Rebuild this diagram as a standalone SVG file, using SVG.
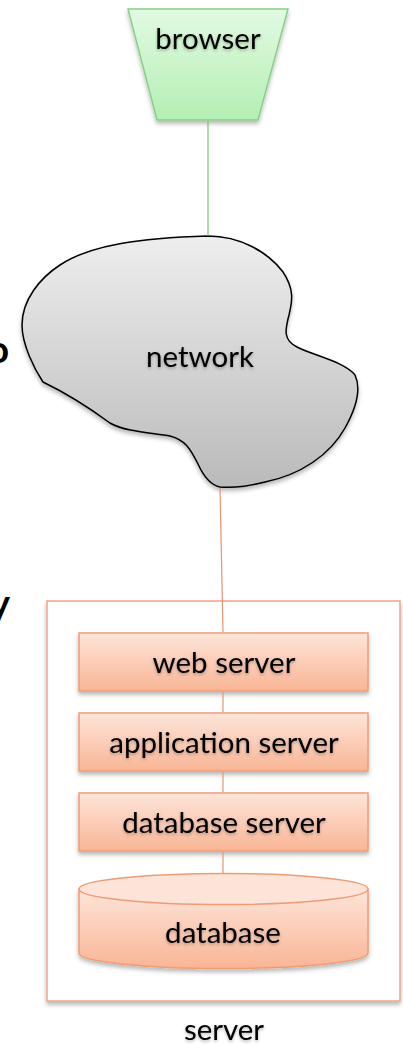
<svg xmlns="http://www.w3.org/2000/svg" width="403" height="1044" viewBox="0 0 403 1044">
  <defs>
    <linearGradient id="gGreen" x1="0" y1="0" x2="0" y2="1">
      <stop offset="0" stop-color="#e2fae2"/>
      <stop offset="1" stop-color="#b3efb3"/>
    </linearGradient>
    <linearGradient id="gGrey" x1="0" y1="0" x2="0" y2="1">
      <stop offset="0" stop-color="#eeeeee"/>
      <stop offset="1" stop-color="#bababa"/>
    </linearGradient>
    <linearGradient id="gOrange" x1="0" y1="0" x2="0" y2="1">
      <stop offset="0" stop-color="#fde5da"/>
      <stop offset="1" stop-color="#f9b595"/>
    </linearGradient>
    <filter id="shadow" x="-10%" y="-10%" width="120%" height="130%">
      <feDropShadow dx="0" dy="3" stdDeviation="2" flood-color="#000" flood-opacity="0.28"/>
    </filter>
    <filter id="tshadow" x="-10%" y="-20%" width="120%" height="150%">
      <feDropShadow dx="0" dy="1.5" stdDeviation="1.5" flood-color="#000" flood-opacity="0.3"/>
    </filter>
    <style>
      .lbl { font-family: Lato, "Open Sans", "Liberation Sans", sans-serif; font-size: 29.5px; fill: #000; text-anchor: middle; filter: url(#tshadow); }
      .frag { font-family: Lato, "Liberation Sans", sans-serif; font-weight: bold; font-size: 38px; fill: #000; text-anchor: end; }
      .box { fill: url(#gOrange); stroke: #ee9c76; stroke-width: 1.5; filter: url(#shadow); }
      .link-green { stroke: #74c274; stroke-width: 1.2; fill: none; }
      .link-orange { stroke: #e8956e; stroke-width: 1.2; fill: none; }
    </style>
  </defs>

  <rect width="403" height="1044" fill="#ffffff"/>

  <!-- edge fragments of neighbouring text -->
  <text class="frag" x="9" y="363">o</text>
  <text class="frag" x="10" y="617">y</text>

  <!-- browser -->
  <g id="browser">
    <polygon points="128,9 288,9 258,120 157,120" fill="url(#gGreen)" stroke="#88cf88" stroke-width="1.5" filter="url(#shadow)"/>
    <text class="lbl" x="208" y="49">browser</text>
  </g>

  <!-- network cloud -->
  <g id="network">
    <path d="M208,236 C240,236 268,252 283,272 C295,290 292,302 289,315 C285,330 283,340 297,347 C315,356 345,362 355,375 C362,390 355,410 345,428 C330,455 300,475 265,482 C245,487 230,488 220,487 C210,485 203,475 198,464 C190,448 185,440 170,436 C155,433 125,432 110,423 C95,412 70,395 43,382 C35,370 22,345 22,325 C22,300 40,278 60,265 C90,245 140,238 208,236 Z" fill="url(#gGrey)" stroke="#000" stroke-width="1.5" filter="url(#shadow)"/>
    <text class="lbl" x="200" y="367">network</text>
  </g>

  <!-- server container -->
  <g id="server">
    <rect x="47" y="601" width="353" height="400" fill="#ffffff" stroke="#f0a585" stroke-width="1.5" filter="url(#shadow)"/>
    <text class="lbl" x="224" y="1040">server</text>
  </g>

  <g id="web-server">
    <rect class="box" x="79" y="633" width="289" height="58"/>
    <text class="lbl" x="224" y="673">web server</text>
  </g>

  <g id="application-server">
    <rect class="box" x="79" y="713" width="289" height="58"/>
    <text class="lbl" x="224" y="753">application server</text>
  </g>

  <g id="database-server">
    <rect class="box" x="79" y="793" width="289" height="58"/>
    <text class="lbl" x="224" y="833">database server</text>
  </g>

  <g id="database">
    <path class="box" d="M79,889 L79,953 A144.5,15.5 0 0 0 368,953 L368,889 Z"/>
    <ellipse cx="223.5" cy="889" rx="144.5" ry="15.5" fill="#fde3d8" stroke="#ee9c76" stroke-width="1.5"/>
    <text class="lbl" x="223" y="943">database</text>
  </g>

  <!-- connectors, drawn over the node shadows -->
  <g id="connectors">
    <line class="link-green" x1="208" y1="121" x2="208" y2="236"/>
    <line class="link-orange" x1="220" y1="488" x2="223" y2="632"/>
    <line class="link-orange" x1="223" y1="692" x2="223" y2="712"/>
    <line class="link-orange" x1="223" y1="772" x2="223" y2="792"/>
    <line class="link-orange" x1="223" y1="852" x2="223" y2="873"/>
  </g>
</svg>
